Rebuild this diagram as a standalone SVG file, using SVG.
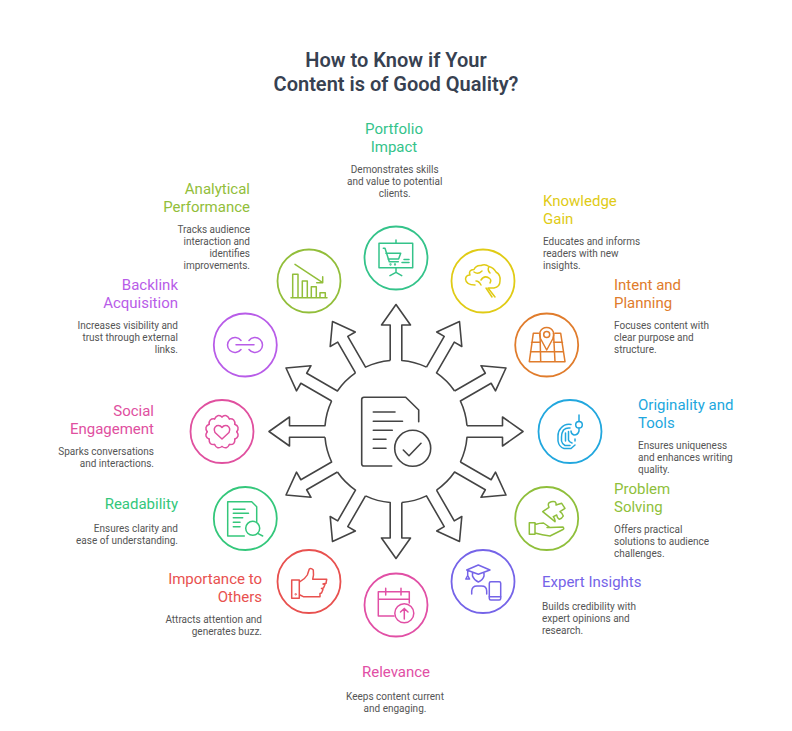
<svg xmlns="http://www.w3.org/2000/svg" xmlns:xlink="http://www.w3.org/1999/xlink" width="792" height="731" viewBox="0 0 792 731">
<style>
text{font-family:Roboto,"Liberation Sans",sans-serif}
.t{font-size:20px;font-weight:600;fill:#374151;text-anchor:middle}
.l{font-size:15px}
.d{font-size:10px;fill:#555}
.m{text-anchor:middle}.e{text-anchor:end}
.r{fill:none;stroke-width:1.8}
.i{fill:none;stroke-width:1.5;stroke-linecap:round;stroke-linejoin:round}
.a{fill:none;stroke:#444;stroke-width:1.6;stroke-linejoin:round}
.c{fill:none;stroke:#444;stroke-width:1.6;stroke-linecap:round;stroke-linejoin:round}
</style>
<defs>
<path id="arw" d="M-5.8,-71V-106.5H-14.5L0,-127L14.5,-106.5H5.8V-71A71,71 0 0 1 30.48,-64.39"/>
<path id="sc" d="M14.8,0Q18.2,4.87 12.82,7.4"/>
</defs>
<rect width="792" height="731" fill="#fff"/>
<g id="title"><text class="t" x="396" y="67">How to Know if Your</text><text class="t" x="396" y="91">Content is of Good Quality?</text></g>
<g id="connectors" class="a" transform="translate(396,431.5)">
<use href="#arw"/><use href="#arw" transform="rotate(30)"/><use href="#arw" transform="rotate(60)"/><use href="#arw" transform="rotate(90)"/><use href="#arw" transform="rotate(120)"/><use href="#arw" transform="rotate(150)"/><use href="#arw" transform="rotate(180)"/><use href="#arw" transform="rotate(210)"/><use href="#arw" transform="rotate(240)"/><use href="#arw" transform="rotate(270)"/><use href="#arw" transform="rotate(300)"/><use href="#arw" transform="rotate(330)"/>
</g>
<g id="center" class="c">
<path d="M391.7,466H364a2.3,2.3 0 0 1-2.3-2.3V399.6a2.3,2.3 0 0 1 2.3-2.3H405.7L418.7,410V421.7"/>
<path d="M373.3,412H395M373.3,421.3H402.5M373.3,430.3H392.3M373.3,439.3H386M373.3,448.3H386"/>
<circle cx="412.7" cy="448.3" r="18"/>
<path d="M403.3,450L409,455.7L421,443.3"/>
</g>
<g id="node-portfolio">
<circle class="r" cx="396" cy="258" r="31.5" stroke="#34C38A"/>
<g class="i" stroke="#34C38A"><path d="M379,243.3H412.7V267.7H379ZM396,240V243.3M396,267.7V272.3L390,275.7M396,272.3L401.7,275.7"/><path d="M383.3,248.3H385L389.3,261.7H398.3M385.9,253.3H400.7L398.6,259H388M404,259.5H409M402,262.5H409"/><circle cx="390.5" cy="264.5" r=".4"/><circle cx="395" cy="264.5" r=".4"/></g>
<text class="l m" fill="#34C38A" x="394" y="134">Portfolio</text><text class="l m" fill="#34C38A" x="394" y="152">Impact</text>
<text class="d m" x="394.700" y="173">Demonstrates skills</text><text class="d m" x="394.700" y="185">and value to potential</text><text class="d m" x="394.700" y="197">clients.</text>
</g>
<g id="node-knowledge">
<circle class="r" cx="483" cy="281" r="31.500" stroke="#E0CB15"/>
<g class="i" stroke="#E0CB15"><path d="M475,285Q466,285 465.500,279Q466,275 470,275Q468,270 474,269.500Q476,265 481,265.500Q485,263.500 489,266.500Q494,268 496,272Q501,275 500,281Q500,287 494,288H488L495,297M486,288L492,297M482,271Q478,275 474,272M489,266.500Q487,270 490,273M481,280Q484,275 489,278Q492,280 490,283M481,285Q479,281 476,281"/></g>
<text class="l" fill="#E0CB15" x="543" y="206">Knowledge</text><text class="l" fill="#E0CB15" x="543" y="224">Gain</text>
<text class="d" x="543" y="245">Educates and informs</text><text class="d" x="543" y="257">readers with new</text><text class="d" x="543" y="269">insights.</text>
</g>
<g id="node-intent">
<circle class="r" cx="546.700" cy="345" r="31.500" stroke="#E07C2C"/>
<g class="i" stroke="#E07C2C"><path d="M538.500,333.300H533.300L529.300,361.700H565L560.700,333.300H555M531.500,342.300H539.500M553.500,342.300H562.500M530.500,351.700H563.500M540,333.300L540.700,361.700M553.500,333.300L555,361.700"/><path d="M546.700,350L540.700,339Q538.900,335 540,332Q542,327.600 546.700,327.600Q551.400,327.600 553.400,332Q554.500,335 552.700,339Z"/><circle cx="546.700" cy="334.500" r="3"/></g>
<text class="l" fill="#E07C2C" x="614" y="290">Intent and</text><text class="l" fill="#E07C2C" x="614" y="308">Planning</text>
<text class="d" x="614" y="329">Focuses content with</text><text class="d" x="614" y="341">clear purpose and</text><text class="d" x="614" y="353">structure.</text>
</g>
<g id="node-originality">
<circle class="r" cx="570" cy="431.500" r="31.500" stroke="#22A7DE"/>
<g class="i" stroke="#22A7DE"><path d="M579,415V421.500M579,428V431Q578,435 574,435Q571,434 571,431"/><circle cx="579" cy="424.700" r="3.300"/><path d="M571,424.500Q565,423.500 561,428Q558,431 558,436V441Q559,447 564,448.500H571L575,445"/><path d="M570,428Q566,427.500 563.500,430Q561.500,433 561.500,437V441Q562,444 565,445.500H570"/><path d="M565.500,433V441M568.500,431.500V440Q569,442 572,443M575,439V441"/></g>
<text class="l" fill="#22A7DE" x="638" y="410">Originality and</text><text class="l" fill="#22A7DE" x="638" y="428">Tools</text>
<text class="d" x="638" y="449">Ensures uniqueness</text><text class="d" x="638" y="461">and enhances writing</text><text class="d" x="638" y="473">quality.</text>
</g>
<g id="node-problem">
<circle class="r" cx="546.700" cy="518.500" r="31.500" stroke="#8FBF3B"/>
<g class="i" stroke="#8FBF3B"><path d="M529.300,522.700H535V534.300H529.300ZM535,524.500Q540,523 543.500,523L550,527.500H547M550,527.500L563,527Q564.500,528.500 563,529.500L550,536Q542,535 535,533"/><path d="M542.700,511.700L549,507.300Q547.500,504 549.300,502.700Q552,500.800 555,501.700Q556.500,503 556,505L561.700,503.300L565,508.300L560,511.700Q562,512.500 563.300,516Q562,518.500 559.300,519.300Q557,518 556.700,515L553.300,516.700Q555.500,519 555,521.700Z"/></g>
<text class="l" fill="#8FBF3B" x="614" y="494">Problem</text><text class="l" fill="#8FBF3B" x="614" y="512">Solving</text>
<text class="d" x="614" y="533">Offers practical</text><text class="d" x="614" y="545">solutions to audience</text><text class="d" x="614" y="557">challenges.</text>
</g>
<g id="node-expert">
<circle class="r" cx="483" cy="581.500" r="31.500" stroke="#7564E8"/>
<g class="i" stroke="#7564E8"><path d="M466.700,570L478.300,565L490,570L478.300,574.300ZM467.700,570V576M465.800,579H469.600L467.700,575.500ZM472.500,572.500V576Q474,580 478.300,582Q483,580 484,576V572.500M471.700,594V591Q472,586 477,586H481.500Q486.700,586 486.700,591V594"/><rect x="489.300" y="581.700" width="11.400" height="18.300" rx="1.500"/><path d="M489.300,596.700H500.700"/></g>
<text class="l" fill="#7564E8" x="542" y="587">Expert Insights</text>
<text class="d" x="542" y="610">Builds credibility with</text><text class="d" x="542" y="622">expert opinions and</text><text class="d" x="542" y="634">research.</text>
</g>
<g id="node-relevance">
<circle class="r" cx="396" cy="605" r="31.500" stroke="#E14FA5"/>
<g class="i" stroke="#E14FA5"><path d="M394,616H378.300V591.700H409.300V603M378.300,599.300H409.300M385.700,588.300V595M401,588.300V595"/><circle cx="404.300" cy="613.300" r="9.500"/><path d="M404.300,619V608.500M400.500,612L404.300,608.500L408,612"/></g>
<text class="l m" fill="#E14FA5" x="396" y="677">Relevance</text>
<text class="d m" x="395" y="700">Keeps content current</text><text class="d m" x="395" y="712">and engaging.</text>
</g>
<g id="node-importance">
<circle class="r" cx="309" cy="581.500" r="31.500" stroke="#E8514F"/>
<g class="i" stroke="#E8514F"><rect x="291.700" y="580" width="7.600" height="18.300"/><circle cx="295.700" cy="594.300" r=".4"/><path d="M300,581.700Q305,579 307.300,575L309.300,569Q311,567.500 313.300,570Q314,575 312.700,579.300H326.700L326,583.300L323,584L325,584.500L323.500,588L321.500,588.500L323,589.500L321.500,593L320,593.500V596.700H303.300L300,595"/></g>
<text class="l e" fill="#E8514F" x="262" y="584">Importance to</text><text class="l e" fill="#E8514F" x="262" y="602">Others</text>
<text class="d e" x="262" y="623">Attracts attention and</text><text class="d e" x="262" y="635">generates buzz.</text>
</g>
<g id="node-readability">
<circle class="r" cx="245.300" cy="518.500" r="31.500" stroke="#34C77B"/>
<g class="i" stroke="#34C77B"><path d="M244.300,536H227.700V501.700H251.700L256.700,506.700V521.700M233.300,509.300H245M233.300,513.300H248.500M233.300,517.700H242.700M233.300,522.300H240M233.300,526.700H240"/><circle cx="252.700" cy="528.300" r="7"/><path d="M257.700,533.300L262.700,536"/></g>
<text class="l e" fill="#34C77B" x="178" y="509">Readability</text>
<text class="d e" x="178" y="532">Ensures clarity and</text><text class="d e" x="178" y="544">ease of understanding.</text>
</g>
<g id="node-social">
<circle class="r" cx="222" cy="431.500" r="31.500" stroke="#E0509F"/>
<g class="i" stroke="#E0509F"><g transform="translate(222,431.700)"><use href="#sc"/><use href="#sc" transform="rotate(30)"/><use href="#sc" transform="rotate(60)"/><use href="#sc" transform="rotate(90)"/><use href="#sc" transform="rotate(120)"/><use href="#sc" transform="rotate(150)"/><use href="#sc" transform="rotate(180)"/><use href="#sc" transform="rotate(210)"/><use href="#sc" transform="rotate(240)"/><use href="#sc" transform="rotate(270)"/><use href="#sc" transform="rotate(300)"/><use href="#sc" transform="rotate(330)"/></g><path d="M222,439L215,432.500Q213,428 216.500,425.800Q220,424.500 222,427.500Q224,424.500 227.500,425.800Q231,428 229,432.500Z"/></g>
<text class="l e" fill="#E0509F" x="154" y="416">Social</text><text class="l e" fill="#E0509F" x="154" y="434">Engagement</text>
<text class="d e" x="154" y="455">Sparks conversations</text><text class="d e" x="154" y="467">and interactions.</text>
</g>
<g id="node-backlink">
<circle class="r" cx="245.300" cy="345" r="31.500" stroke="#B85CE8"/>
<g class="i" stroke="#B85CE8"><path d="M241,340.500A7.500,7.500 0 1 0 241,349.500M249,340.500A7.500,7.500 0 1 1 249,349.500M236,344.700H254"/></g>
<text class="l e" fill="#B85CE8" x="178" y="290">Backlink</text><text class="l e" fill="#B85CE8" x="178" y="308">Acquisition</text>
<text class="d e" x="178" y="329">Increases visibility and</text><text class="d e" x="178" y="341">trust through external</text><text class="d e" x="178" y="353">links.</text>
</g>
<g id="node-analytical">
<circle class="r" cx="309" cy="281" r="31.500" stroke="#92BE3A"/>
<g class="i" stroke="#92BE3A"><path d="M295,264.300L322.700,282.700M316.700,282.700H322.700V276.700M291,297.700H327M292.700,297.700V274.300H298V297.700M302.300,297.700V281H307.300V297.700M311.300,297.700V286.700H316.300V297.700M320,297.700V292.700H325.300V297.700"/></g>
<text class="l e" fill="#92BE3A" x="250" y="194">Analytical</text><text class="l e" fill="#92BE3A" x="250" y="212">Performance</text>
<text class="d e" x="250" y="233">Tracks audience</text><text class="d e" x="250" y="245">interaction and</text><text class="d e" x="250" y="257">identifies</text><text class="d e" x="250" y="269">improvements.</text>
</g>
</svg>
